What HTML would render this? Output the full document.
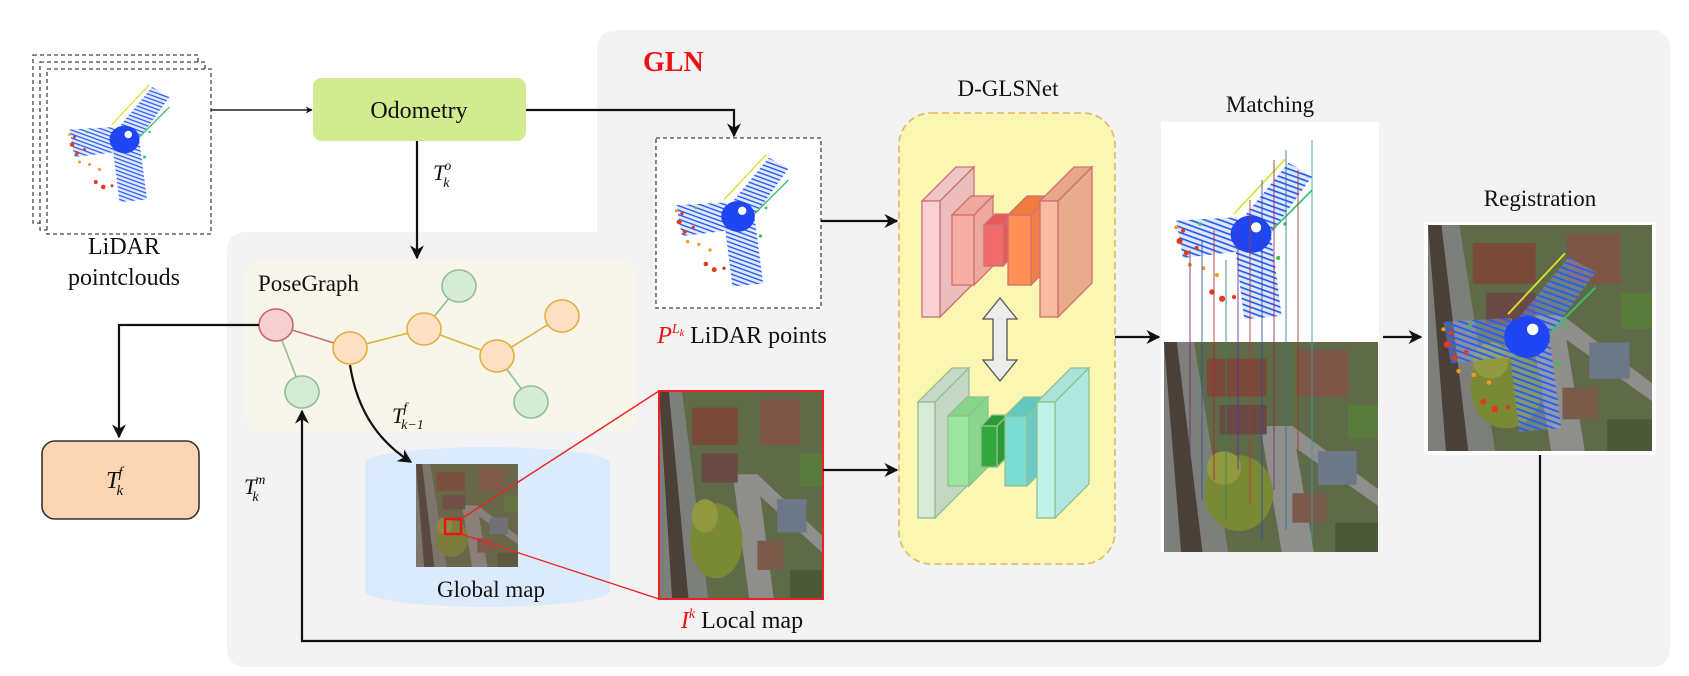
<!DOCTYPE html>
<html><head><meta charset="utf-8">
<style>
html,body{margin:0;padding:0;background:#fff;}
svg{display:block;font-family:"Liberation Serif",serif;}
</style></head>
<body>
<svg width="1689" height="676" viewBox="0 0 1689 676" xmlns="http://www.w3.org/2000/svg">
<defs>
  <marker id="ah" viewBox="0 0 10 10" refX="9" refY="5" markerWidth="7" markerHeight="7" orient="auto-start-reverse" markerUnits="userSpaceOnUse">
    <path d="M0,0 L10,5 L0,10 L3,5 Z" fill="#111"/>
  </marker>
  <marker id="ahb" viewBox="0 0 10 10" refX="9" refY="5" markerWidth="14" markerHeight="14" orient="auto" markerUnits="userSpaceOnUse">
    <path d="M0,0 L10,5 L0,10 L3,5 Z" fill="#111"/>
  </marker>
  <pattern id="stripes" width="3" height="3" patternUnits="userSpaceOnUse" patternTransform="rotate(20)">
    <rect width="3" height="3" fill="#9ab4f5" opacity="0.3"/>
    <rect width="3" height="1" fill="#2a5ef0"/>
  </pattern>
  <symbol id="pc" viewBox="0 0 100 100">
    <polygon points="44,38 72,4 86,12 60,48" fill="url(#stripes)"/>
    <polygon points="6,38 42,36 44,56 10,60" fill="url(#stripes)"/>
    <polygon points="40,48 62,48 68,94 46,96" fill="url(#stripes)"/>
    <ellipse cx="50" cy="46" rx="12" ry="11" fill="#1f45f5"/>
    <circle cx="53" cy="42" r="3" fill="#fff"/>
    <line x1="40" y1="34" x2="70" y2="2" stroke="#d8e030" stroke-width="1"/>
    <line x1="62" y1="44" x2="86" y2="20" stroke="#38c070" stroke-width="1"/>
    <g fill="#e23a1e">
      <circle cx="8" cy="50" r="1.8"/><circle cx="12" cy="57" r="1.5"/><circle cx="18" cy="54" r="1.2"/>
      <circle cx="27" cy="80" r="1.6"/><circle cx="33" cy="84" r="1.8"/><circle cx="40" cy="83" r="1.2"/>
      <circle cx="10" cy="44" r="1.2"/>
    </g>
    <g fill="#f09a20">
      <circle cx="14" cy="64" r="1.2"/><circle cx="22" cy="66" r="1.2"/><circle cx="30" cy="70" r="1.2"/><circle cx="6" cy="42" r="1.1"/>
    </g>
    <g fill="#3cc24a">
      <circle cx="20" cy="40" r="1"/><circle cx="66" cy="60" r="1.2"/><circle cx="70" cy="40" r="1"/>
    </g>
  </symbol>
  <symbol id="aerial" viewBox="0 0 100 100" preserveAspectRatio="none">
    <rect width="100" height="100" fill="#5f6a48"/>
    <polygon points="0,0 14,0 30,100 0,100" fill="#7d7f7a"/>
    <polygon points="0,0 6,0 18,100 8,100" fill="#4a4038"/>
    <polygon points="45,40 60,40 70,100 55,100" fill="#8e8e8c"/>
    <polygon points="60,40 100,70 100,78 58,48" fill="#8e8e8c"/>
    <rect x="20" y="8" width="28" height="18" fill="#7a4a3c"/>
    <rect x="26" y="30" width="22" height="14" fill="#6a4a44"/>
    <rect x="62" y="4" width="24" height="22" fill="#7e5648"/>
    <rect x="72" y="52" width="18" height="16" fill="#6c7888"/>
    <rect x="60" y="72" width="16" height="14" fill="#7a5a4a"/>
    <ellipse cx="35" cy="72" rx="16" ry="18" fill="#7a8a34"/>
    <ellipse cx="28" cy="60" rx="8" ry="8" fill="#909840"/>
    <rect x="80" y="86" width="20" height="14" fill="#4c5a3a"/>
    <rect x="86" y="30" width="14" height="16" fill="#5a7a3c"/>
  </symbol>
</defs>

<path d="M617 30 H1650 Q1670 30 1670 50 V647 Q1670 667 1650 667 H247 Q227 667 227 647 V252 Q227 232 247 232 H597 V50 Q597 30 617 30 Z" fill="#f3f3f3"/>
<text x="643" y="71" font-size="28" font-weight="bold" fill="#ee1111">GLN</text>

<g>
  <rect x="33" y="55" width="165" height="168" fill="#fff" stroke="#444" stroke-width="1.3" stroke-dasharray="4,3"/>
  <rect x="40" y="62" width="165" height="168" fill="#fff" stroke="#444" stroke-width="1.3" stroke-dasharray="4,3"/>
  <rect x="47" y="69" width="164" height="165" fill="#fff" stroke="#444" stroke-width="1.3" stroke-dasharray="4,3"/>
  <use href="#pc" x="62" y="62" width="125" height="165"/>
</g>
<text x="124" y="254" font-size="24" text-anchor="middle" fill="#111">LiDAR</text>
<text x="124" y="285" font-size="24" text-anchor="middle" fill="#111">pointclouds</text>

<line x1="211" y1="110" x2="312" y2="110" stroke="#222" stroke-width="1.5" marker-end="url(#ah)"/>
<rect x="313" y="78" width="213" height="63" rx="9" fill="#d3eb8f"/>
<text x="419" y="118" font-size="24" text-anchor="middle" fill="#111">Odometry</text>
<line x1="417" y1="141" x2="417" y2="258" stroke="#111" stroke-width="2.2" marker-end="url(#ahb)"/>
<text x="433" y="180" font-size="22" font-style="italic" fill="#111">T<tspan font-size="14" dx="-1" dy="-10">o</tspan><tspan font-size="14" dx="-8" dy="17">k</tspan></text>
<polyline points="526,110 734,110 734,136" fill="none" stroke="#111" stroke-width="2.2" marker-end="url(#ahb)"/>

<rect x="656" y="138" width="165" height="170" fill="#fff" stroke="#444" stroke-width="1.3" stroke-dasharray="4,3"/>
<use href="#pc" x="668" y="142" width="140" height="160"/>
<text x="742" y="343" font-size="24" text-anchor="middle" fill="#111"><tspan fill="#ee1111" font-style="italic">P<tspan font-size="14" dy="-10">L<tspan font-size="10" dy="3">k</tspan></tspan></tspan><tspan dy="7"> LiDAR points</tspan></text>
<line x1="821" y1="221" x2="897" y2="221" stroke="#111" stroke-width="2.2" marker-end="url(#ahb)"/>

<rect x="245" y="260" width="392" height="173" rx="18" fill="#f8f5ea"/>
<text x="258" y="291" font-size="23" fill="#111">PoseGraph</text>
<g stroke-width="1.6" fill="none">
  <line x1="276" y1="325" x2="350" y2="348" stroke="#c87070"/>
  <line x1="276" y1="325" x2="302" y2="392" stroke="#8fc08f"/>
  <line x1="350" y1="348" x2="424" y2="329" stroke="#e0b040"/>
  <line x1="424" y1="329" x2="459" y2="286" stroke="#8fc08f"/>
  <line x1="424" y1="329" x2="497" y2="356" stroke="#e0b040"/>
  <line x1="497" y1="356" x2="562" y2="316" stroke="#e0b040"/>
  <line x1="497" y1="356" x2="531" y2="402" stroke="#8fc08f"/>
</g>
<ellipse cx="276" cy="325" rx="17" ry="16" fill="#f6d0d0" stroke="#c86464" stroke-width="1.6"/>
<ellipse cx="350" cy="348" rx="17" ry="16" fill="#fde0c4" stroke="#e0b040" stroke-width="1.6"/>
<ellipse cx="424" cy="329" rx="17" ry="16" fill="#fde0c4" stroke="#e0b040" stroke-width="1.6"/>
<ellipse cx="497" cy="356" rx="17" ry="16" fill="#fde0c4" stroke="#e0b040" stroke-width="1.6"/>
<ellipse cx="562" cy="316" rx="17" ry="16" fill="#fde0c4" stroke="#e0b040" stroke-width="1.6"/>
<ellipse cx="302" cy="392" rx="17" ry="16" fill="#d6ebd6" stroke="#8fc08f" stroke-width="1.6"/>
<ellipse cx="459" cy="286" rx="17" ry="16" fill="#d6ebd6" stroke="#8fc08f" stroke-width="1.6"/>
<ellipse cx="531" cy="402" rx="17" ry="16" fill="#d6ebd6" stroke="#8fc08f" stroke-width="1.6"/>

<polyline points="259,325 119,325 119,437" fill="none" stroke="#111" stroke-width="2.2" marker-end="url(#ahb)"/>
<rect x="42" y="441" width="157" height="78" rx="13" fill="#fcd5b4" stroke="#333" stroke-width="1.6"/>
<text x="106" y="488" font-size="24" font-style="italic" fill="#111">T<tspan font-size="15" dx="-1" dy="-11">f</tspan><tspan font-size="15" dx="-6" dy="18">k</tspan></text>

<text x="392" y="423" font-size="22" font-style="italic" fill="#111">T<tspan font-size="14" dx="-1" dy="-11">f</tspan><tspan font-size="14" dx="-6" dy="17">k−1</tspan></text>
<text x="244" y="494" font-size="22" font-style="italic" fill="#111">T<tspan font-size="14" dx="-1" dy="-10">m</tspan><tspan font-size="14" dx="-13" dy="17">k</tspan></text>

<g>
  <rect x="365" y="463" width="245" height="128" fill="#dcebfb"/>
  <ellipse cx="487.5" cy="463" rx="122.5" ry="16" fill="#dcebfb"/>
  <ellipse cx="487.5" cy="591" rx="122.5" ry="16" fill="#dcebfb"/>
</g>
<path d="M350 365 Q360 430 411 462" fill="none" stroke="#111" stroke-width="2.2" marker-end="url(#ahb)"/>
<svg x="416" y="464" width="102" height="103" viewBox="0 0 100 100" preserveAspectRatio="none"><use href="#aerial" width="100" height="100"/><rect width="100" height="100" fill="#806050" opacity="0.3"/></svg>
<rect x="445" y="519" width="16" height="15" fill="none" stroke="#ee1111" stroke-width="2.5"/>
<line x1="461" y1="519" x2="659" y2="391" stroke="#ee2222" stroke-width="1.4"/>
<line x1="461" y1="534" x2="659" y2="599" stroke="#ee2222" stroke-width="1.4"/>
<text x="491" y="597" font-size="23" text-anchor="middle" fill="#111">Global map</text>

<svg x="659" y="391" width="164" height="208" viewBox="0 0 100 100" preserveAspectRatio="none"><use href="#aerial" width="100" height="100"/></svg>
<rect x="659" y="391" width="164" height="208" fill="none" stroke="#ee2222" stroke-width="2"/>
<text x="742" y="628" font-size="24" text-anchor="middle" fill="#111"><tspan fill="#ee1111" font-style="italic">I<tspan font-size="14" dy="-10">k</tspan></tspan><tspan dy="10"> Local map</tspan></text>
<line x1="823" y1="470" x2="897" y2="470" stroke="#111" stroke-width="2.2" marker-end="url(#ahb)"/>

<text x="1008" y="96" font-size="23" text-anchor="middle" fill="#111">D-GLSNet</text>
<rect x="899" y="113" width="216" height="451" rx="32" fill="#fbf7b2" stroke="#e0b86a" stroke-width="1.6" stroke-dasharray="7,4"/>
<g stroke="#d07070" stroke-width="1.3">
  <polygon points="922,201 956,167 974,167 940,201" fill="#eec6c6"/>
  <polygon points="940,201 974,167 974,283 940,317" fill="#eabcbc"/>
  <rect x="922" y="201" width="18" height="116" fill="#f8d2d2"/>
  <polygon points="952,215 971,196 993,196 974,215" fill="#eea99e"/>
  <polygon points="974,215 993,196 993,266 974,285" fill="#eea99e"/>
  <rect x="952" y="215" width="22" height="70" fill="#f6ada2"/>
  <polygon points="984,225 995,214 1014,214 1003,225" fill="#e25a5a"/>
  <polygon points="1003,225 1014,214 1014,255 1003,266" fill="#e25a5a"/>
  <rect x="984" y="225" width="19" height="41" fill="#f06a6a"/>
  <polygon points="1008,215 1027,196 1050,196 1031,215" fill="#f07c40"/>
  <polygon points="1031,215 1050,196 1050,266 1031,285" fill="#ef8048"/>
  <rect x="1008" y="215" width="23" height="70" fill="#ff8f55"/>
  <polygon points="1040,201 1074,167 1092,167 1058,201" fill="#e8a888"/>
  <polygon points="1058,201 1092,167 1092,283 1058,317" fill="#e8ab8c"/>
  <rect x="1040" y="201" width="18" height="116" fill="#f9bba0"/>
</g>
<g stroke="#8fc08f" stroke-width="1.3">
  <polygon points="918,402 952,368 969,368 935,402" fill="#c6d8c6"/>
  <polygon points="935,402 969,368 969,484 935,518" fill="#c4d6c4"/>
  <rect x="918" y="402" width="17" height="116" fill="#d8ead8"/>
  <polygon points="948,416 967,397 988,397 969,416" fill="#88d488"/>
  <polygon points="969,416 988,397 988,467 969,486" fill="#8ad68c"/>
  <rect x="948" y="416" width="21" height="70" fill="#9ae69c"/>
  <polygon points="981,426 992,415 1008,415 997,426" fill="#2a9a34"/>
  <polygon points="997,426 1008,415 1008,456 997,467" fill="#2a9a34"/>
  <rect x="981" y="426" width="16" height="41" fill="#32a83c"/>
  <polygon points="1005,416 1024,397 1046,397 1027,416" fill="#60c8c0"/>
  <polygon points="1027,416 1046,397 1046,467 1027,486" fill="#6accc4"/>
  <rect x="1005" y="416" width="22" height="70" fill="#7ddcd2"/>
  <polygon points="1037,402 1071,368 1089,368 1055,402" fill="#a8e2d8"/>
  <polygon points="1055,402 1089,368 1089,484 1055,518" fill="#aee8de"/>
  <rect x="1037" y="402" width="18" height="116" fill="#bff3ea"/>
</g>
<polygon points="1000,298 1017,319 1007,319 1007,360 1017,360 1000,381 983,360 993,360 993,319 983,319" fill="#ececec" stroke="#555" stroke-width="1.3"/>
<line x1="1115" y1="337" x2="1159" y2="337" stroke="#111" stroke-width="2.2" marker-end="url(#ahb)"/>

<text x="1270" y="112" font-size="23" text-anchor="middle" fill="#111">Matching</text>
<rect x="1161" y="122" width="218" height="430" fill="#fff"/>
<use href="#pc" x="1166" y="126" width="170" height="230"/>
<svg x="1164" y="342" width="214" height="210" viewBox="0 0 100 100" preserveAspectRatio="none"><use href="#aerial" width="100" height="100"/></svg>
<g stroke-width="1" opacity="0.85">
  <line x1="1190" y1="250" x2="1190" y2="460" stroke="#7a2a6a"/>
  <line x1="1202" y1="240" x2="1202" y2="500" stroke="#2a5a8a"/>
  <line x1="1214" y1="230" x2="1214" y2="480" stroke="#aa2a2a"/>
  <line x1="1226" y1="260" x2="1226" y2="520" stroke="#2a8a5a"/>
  <line x1="1238" y1="220" x2="1238" y2="470" stroke="#6a2a9a"/>
  <line x1="1250" y1="200" x2="1250" y2="505" stroke="#aa3a3a"/>
  <line x1="1262" y1="180" x2="1262" y2="540" stroke="#2a4aaa"/>
  <line x1="1274" y1="160" x2="1274" y2="490" stroke="#8a2a5a"/>
  <line x1="1286" y1="150" x2="1286" y2="530" stroke="#2a7a9a"/>
  <line x1="1298" y1="170" x2="1298" y2="450" stroke="#9a3a2a"/>
  <line x1="1312" y1="140" x2="1312" y2="540" stroke="#3a9aaa"/>
</g>
<line x1="1383" y1="337" x2="1421" y2="337" stroke="#111" stroke-width="2.2" marker-end="url(#ahb)"/>

<text x="1540" y="206" font-size="23" text-anchor="middle" fill="#111">Registration</text>
<rect x="1424" y="222" width="232" height="233" fill="#fff"/>
<svg x="1428" y="225" width="224" height="226" viewBox="0 0 100 100" preserveAspectRatio="none"><use href="#aerial" width="100" height="100"/></svg>
<use href="#pc" x="1432" y="232" width="190" height="225"/>

<polyline points="1540,455 1540,641 302,641 302,411" fill="none" stroke="#111" stroke-width="2.2" marker-end="url(#ahb)"/>
</svg>
</body></html>
